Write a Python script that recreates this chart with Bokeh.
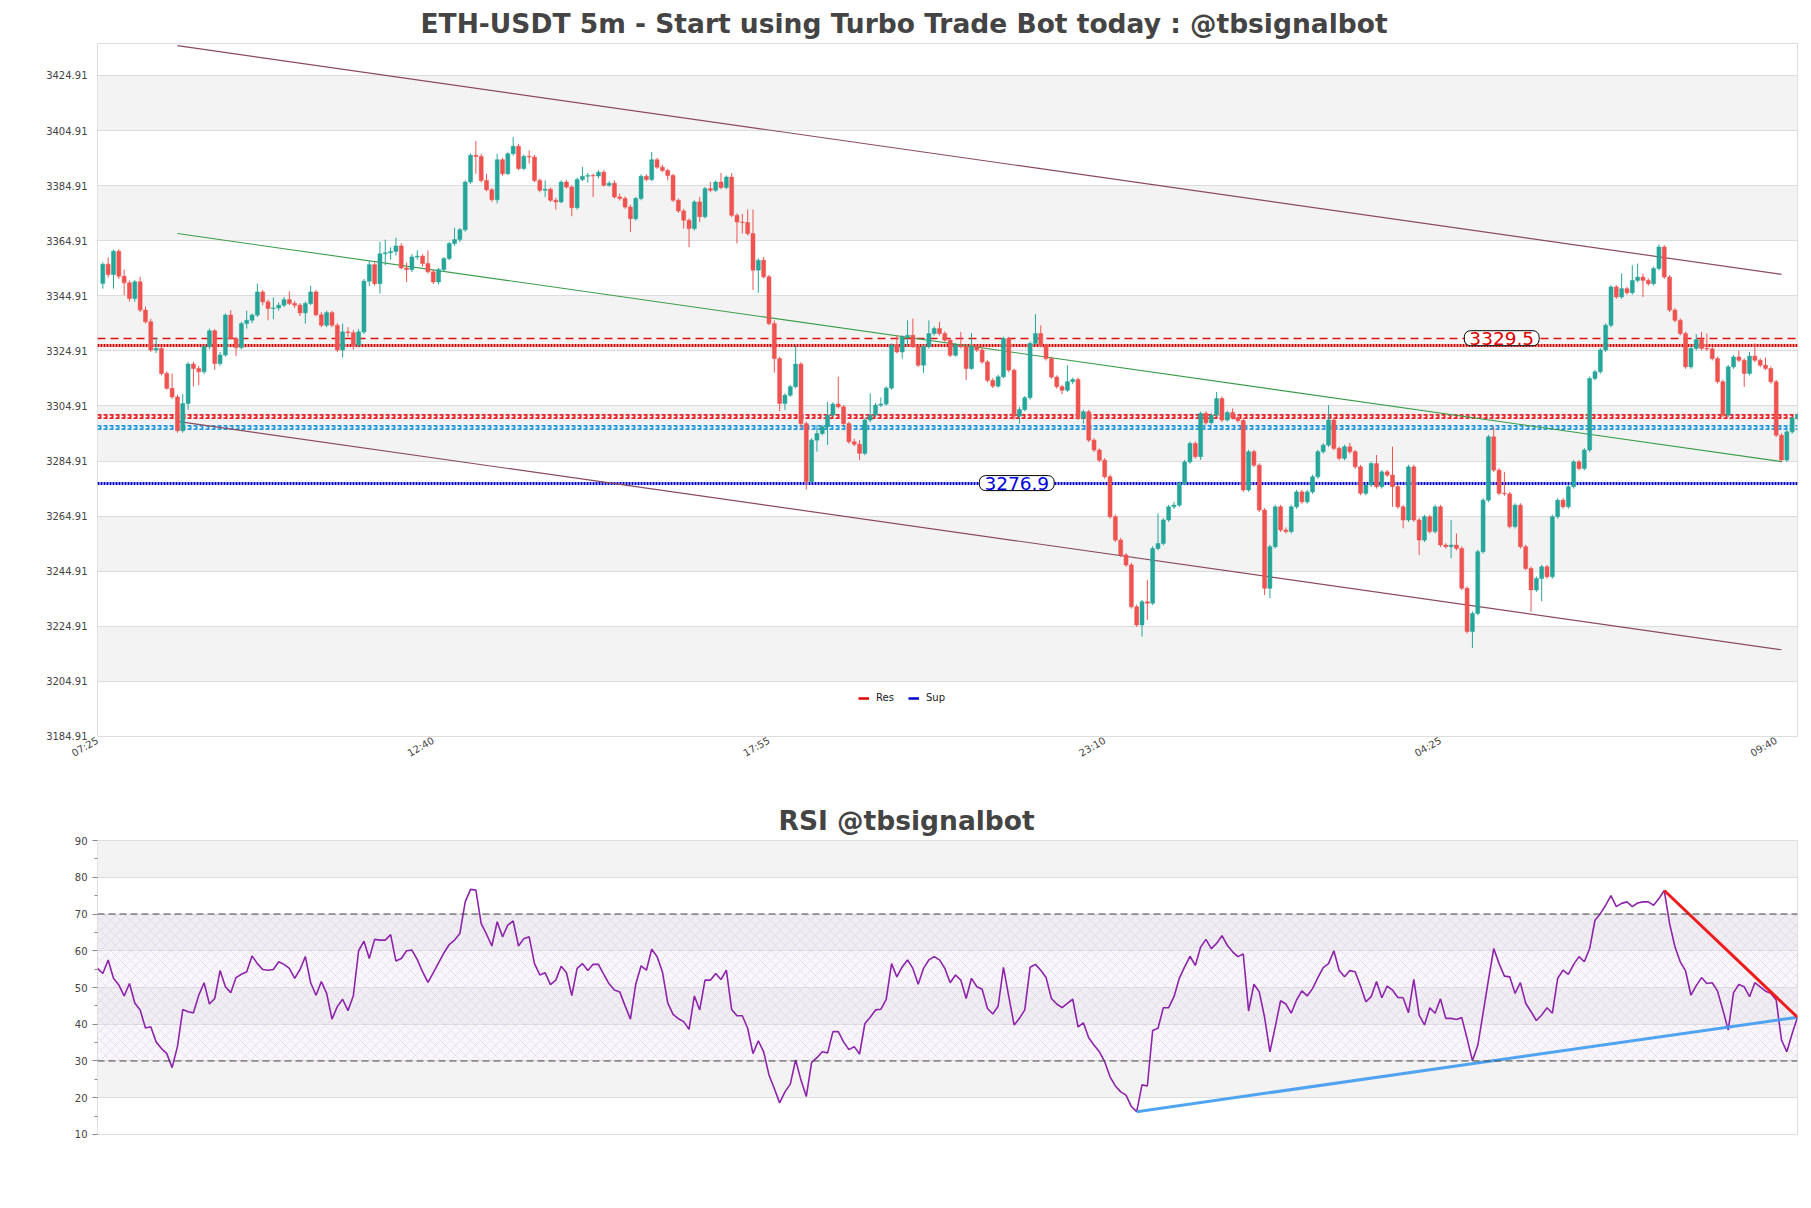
import math
from bokeh.plotting import figure
from bokeh.layouts import column
from bokeh.models import (ColumnDataSource, FixedTicker, Label, Legend, LegendItem,
                          BoxAnnotation, Span, NumeralTickFormatter)
from bokeh.embed import file_html
from bokeh.resources import INLINE

# ---------------- data ----------------
TITLE = "ETH-USDT 5m - Start using Turbo Trade Bot today : @tbsignalbot"
RSI_TITLE = "RSI @tbsignalbot"

FIRST_CANDLE = 1
OPEN = [
 3349.4, 3356.4, 3352.6, 3361.1, 3352.0, 3349.6, 3343.9, 3350.0, 3339.7, 3335.5,
 3325.2, 3325.8, 3316.7, 3311.3, 3308.2, 3295.9, 3305.8, 3320.1, 3318.5, 3317.3,
 3326.4, 3332.2, 3320.3, 3323.4, 3337.9, 3329.4, 3326.1, 3334.8, 3336.0, 3337.9,
 3346.3, 3342.7, 3340.3, 3340.5, 3341.5, 3343.5, 3342.1, 3341.5, 3338.7, 3342.1,
 3346.3, 3338.0, 3334.2, 3338.8, 3334.2, 3325.2, 3331.8, 3331.5, 3327.0, 3331.8,
 3350.2, 3356.2, 3349.3, 3360.2, 3360.5, 3361.0, 3363.0, 3355.0, 3354.4, 3359.0,
 3359.3, 3356.6, 3353.6, 3349.9, 3354.4, 3358.4, 3363.9, 3365.3, 3368.9, 3386.2,
 3395.9, 3395.5, 3386.8, 3383.4, 3379.8, 3394.3, 3389.2, 3396.5, 3399.2, 3391.1,
 3395.5, 3395.3, 3386.8, 3383.2, 3383.6, 3379.6, 3379.0, 3386.2, 3384.4, 3376.9,
 3387.1, 3388.3, 3388.6, 3388.4, 3389.8, 3385.0, 3385.8, 3380.8, 3380.2, 3377.1,
 3372.9, 3380.2, 3388.3, 3387.1, 3394.3, 3391.6, 3390.4, 3388.6, 3379.6, 3375.7,
 3372.3, 3369.3, 3379.0, 3373.6, 3383.8, 3383.2, 3386.2, 3384.2, 3388.0, 3374.1,
 3371.7, 3371.5, 3367.5, 3354.2, 3357.8, 3351.8, 3334.8, 3322.1, 3305.8, 3308.8,
 3311.9, 3320.1, 3298.5, 3277.4, 3292.5, 3294.9, 3297.3, 3301.6, 3305.6, 3304.6,
 3298.5, 3291.9, 3291.0, 3287.7, 3299.8, 3301.6, 3305.2, 3305.6, 3311.4, 3327.0,
 3324.5, 3330.0, 3330.6, 3326.4, 3319.7, 3326.4, 3331.2, 3333.0, 3331.2, 3328.8,
 3323.3, 3326.9, 3326.4, 3318.5, 3326.4, 3325.2, 3320.9, 3314.2, 3312.1, 3315.5,
 3329.4, 3317.9, 3301.2, 3303.6, 3307.9, 3327.6, 3331.2, 3326.9, 3322.1, 3315.4,
 3311.9, 3310.6, 3313.7, 3314.5, 3300.4, 3302.8, 3292.5, 3288.9, 3285.2, 3279.2,
 3264.7, 3256.2, 3250.8, 3247.2, 3232.0, 3225.4, 3233.8, 3233.3, 3253.2, 3255.0,
 3263.5, 3268.3, 3268.9, 3276.8, 3284.6, 3291.3, 3286.5, 3302.2, 3298.8, 3301.6,
 3307.6, 3299.8, 3302.5, 3300.6, 3299.6, 3274.4, 3288.3, 3283.4, 3267.1, 3238.7,
 3253.8, 3268.3, 3259.9, 3259.3, 3268.3, 3273.7, 3270.1, 3273.7, 3279.2, 3288.3,
 3290.7, 3299.8, 3289.5, 3285.9, 3290.1, 3288.3, 3282.8, 3273.2, 3276.2, 3284.0,
 3275.6, 3281.0, 3279.8, 3275.6, 3268.3, 3263.5, 3282.8, 3263.5, 3256.2, 3264.7,
 3259.3, 3268.3, 3254.4, 3253.8, 3254.4, 3253.2, 3238.7, 3223.0, 3229.6, 3252.0,
 3270.7, 3293.7, 3281.6, 3273.2, 3273.0, 3261.1, 3268.9, 3253.8, 3245.9, 3238.1,
 3242.3, 3246.5, 3242.9, 3264.7, 3270.7, 3268.3, 3275.6, 3284.6, 3282.2, 3288.9,
 3314.9, 3317.3, 3325.2, 3334.2, 3348.1, 3344.5, 3347.5, 3346.0, 3350.5, 3351.7,
 3350.5, 3349.3, 3354.8, 3362.6, 3351.7, 3339.7, 3336.0, 3331.2, 3319.1, 3325.8,
 3329.0, 3325.8, 3325.6, 3322.1, 3313.7, 3301.6, 3319.1, 3322.7, 3321.5, 3316.7,
 3323.0, 3321.5, 3319.7, 3318.5, 3313.7, 3294.3, 3285.3, 3295.5, 3300.4]
HIGH = [
 3357.0, 3358.8, 3361.6, 3361.8, 3354.4, 3350.5, 3350.6, 3351.8, 3341.0, 3336.5,
 3329.8, 3326.5, 3317.5, 3316.7, 3309.0, 3309.2, 3320.8, 3320.9, 3319.5, 3327.0,
 3333.0, 3332.8, 3324.5, 3338.5, 3339.7, 3330.0, 3335.5, 3339.5, 3338.5, 3349.3,
 3347.0, 3343.5, 3344.3, 3342.5, 3344.5, 3346.5, 3343.0, 3342.2, 3342.8, 3348.5,
 3347.0, 3339.0, 3339.5, 3339.5, 3335.0, 3334.8, 3333.5, 3332.5, 3332.8, 3351.0,
 3357.5, 3357.0, 3364.5, 3365.3, 3362.5, 3366.0, 3364.0, 3357.0, 3360.0, 3361.4,
 3360.0, 3361.4, 3354.5, 3355.0, 3359.0, 3364.5, 3369.6, 3369.5, 3386.8, 3396.6,
 3401.1, 3396.5, 3389.2, 3384.0, 3396.5, 3395.0, 3397.0, 3402.5, 3400.0, 3396.2,
 3397.7, 3396.0, 3387.5, 3386.8, 3384.2, 3380.5, 3386.8, 3387.0, 3385.0, 3387.8,
 3391.7, 3389.5, 3389.2, 3390.5, 3390.5, 3386.5, 3386.8, 3382.0, 3381.0, 3378.0,
 3380.8, 3389.0, 3389.0, 3397.1, 3395.0, 3392.5, 3391.0, 3389.2, 3380.2, 3376.5,
 3373.0, 3379.6, 3380.8, 3384.4, 3386.2, 3386.8, 3389.5, 3388.6, 3389.5, 3374.8,
 3374.7, 3376.2, 3376.2, 3358.5, 3359.0, 3352.5, 3336.0, 3322.8, 3309.5, 3312.5,
 3327.0, 3320.8, 3299.2, 3293.2, 3297.9, 3298.0, 3306.4, 3306.2, 3315.5, 3305.2,
 3299.2, 3293.0, 3292.5, 3300.5, 3309.4, 3306.0, 3308.0, 3312.0, 3327.6, 3330.6,
 3330.6, 3336.0, 3336.6, 3327.0, 3327.0, 3336.0, 3333.8, 3335.4, 3332.0, 3329.5,
 3327.6, 3331.8, 3327.0, 3331.4, 3327.0, 3326.0, 3321.5, 3315.0, 3316.2, 3330.0,
 3330.0, 3318.5, 3304.5, 3308.5, 3328.2, 3338.2, 3334.2, 3327.5, 3322.8, 3316.0,
 3312.5, 3319.7, 3315.2, 3315.2, 3303.5, 3303.5, 3293.2, 3289.5, 3286.0, 3280.0,
 3265.5, 3257.0, 3251.5, 3248.0, 3232.8, 3234.5, 3241.7, 3254.0, 3265.9, 3264.2,
 3269.0, 3270.0, 3277.5, 3285.3, 3292.0, 3292.0, 3302.9, 3303.0, 3302.3, 3310.0,
 3308.3, 3303.2, 3304.0, 3301.3, 3300.3, 3289.0, 3289.0, 3284.1, 3267.8, 3254.5,
 3269.0, 3269.0, 3260.8, 3269.0, 3274.4, 3274.4, 3274.4, 3279.9, 3289.0, 3291.4,
 3305.2, 3300.5, 3290.2, 3290.8, 3291.5, 3289.0, 3283.5, 3276.9, 3284.7, 3287.1,
 3281.7, 3281.7, 3290.1, 3276.3, 3269.0, 3283.5, 3283.5, 3264.2, 3265.4, 3265.4,
 3269.0, 3269.0, 3255.1, 3263.5, 3258.6, 3253.9, 3239.4, 3230.3, 3252.7, 3271.4,
 3294.4, 3297.3, 3282.3, 3281.0, 3273.7, 3269.6, 3269.6, 3254.5, 3246.6, 3243.0,
 3247.2, 3247.2, 3265.4, 3271.4, 3271.4, 3276.3, 3285.3, 3285.3, 3289.6, 3315.6,
 3318.0, 3325.9, 3334.9, 3348.8, 3348.8, 3353.0, 3348.2, 3356.0, 3356.6, 3353.0,
 3351.2, 3355.5, 3363.5, 3363.3, 3352.4, 3340.4, 3336.7, 3331.9, 3326.5, 3331.0,
 3331.8, 3331.2, 3326.3, 3322.8, 3314.4, 3319.8, 3323.4, 3325.0, 3322.2, 3324.5,
 3327.6, 3322.2, 3322.5, 3319.2, 3314.4, 3295.0, 3296.2, 3301.1, 3302.5]
LOW = [
 3347.5, 3351.5, 3347.5, 3351.0, 3345.1, 3342.8, 3342.7, 3339.0, 3334.8, 3324.5,
 3324.1, 3316.0, 3310.8, 3307.5, 3295.2, 3295.2, 3303.5, 3312.0, 3312.5, 3316.5,
 3325.5, 3318.0, 3319.5, 3322.8, 3329.0, 3323.0, 3325.5, 3333.0, 3335.0, 3337.2,
 3341.5, 3336.0, 3336.4, 3339.5, 3340.8, 3341.5, 3340.5, 3337.5, 3334.8, 3341.5,
 3337.5, 3333.5, 3333.5, 3333.5, 3324.5, 3322.5, 3330.0, 3325.4, 3326.2, 3331.0,
 3348.4, 3348.5, 3345.7, 3356.0, 3358.0, 3359.5, 3354.5, 3349.9, 3353.5, 3358.0,
 3355.5, 3353.0, 3349.2, 3349.0, 3353.8, 3357.8, 3363.0, 3364.5, 3368.2, 3385.5,
 3389.2, 3386.0, 3382.8, 3379.0, 3378.4, 3388.5, 3388.8, 3395.8, 3390.5, 3390.5,
 3392.9, 3386.2, 3382.5, 3380.8, 3379.0, 3376.2, 3378.5, 3383.8, 3373.8, 3376.2,
 3386.5, 3386.0, 3380.8, 3387.5, 3384.5, 3384.5, 3380.2, 3379.5, 3376.5, 3368.1,
 3372.2, 3379.6, 3386.5, 3386.5, 3391.0, 3389.8, 3386.8, 3379.0, 3375.0, 3369.3,
 3362.6, 3368.6, 3371.7, 3373.0, 3382.5, 3382.6, 3383.6, 3383.6, 3373.5, 3363.9,
 3367.5, 3366.8, 3347.0, 3346.0, 3351.2, 3334.2, 3317.0, 3303.0, 3303.4, 3308.2,
 3311.3, 3296.7, 3274.6, 3276.8, 3288.3, 3294.2, 3290.7, 3301.0, 3304.0, 3297.8,
 3291.2, 3290.3, 3285.3, 3287.0, 3299.0, 3301.0, 3304.5, 3305.0, 3310.8, 3324.0,
 3322.1, 3327.0, 3326.0, 3319.0, 3316.9, 3325.8, 3330.5, 3330.5, 3328.2, 3322.6,
 3322.8, 3325.8, 3314.3, 3318.0, 3324.5, 3320.2, 3313.5, 3311.4, 3311.5, 3315.0,
 3317.2, 3300.0, 3298.5, 3303.0, 3307.2, 3327.0, 3326.2, 3321.4, 3314.8, 3311.2,
 3309.2, 3310.0, 3312.8, 3299.8, 3298.5, 3291.8, 3288.2, 3284.5, 3278.5, 3264.0,
 3255.5, 3250.0, 3246.5, 3231.3, 3224.7, 3221.2, 3227.2, 3232.6, 3252.5, 3254.3,
 3262.8, 3267.5, 3268.2, 3276.1, 3283.9, 3285.8, 3285.3, 3298.1, 3298.1, 3301.0,
 3299.1, 3299.2, 3300.0, 3298.9, 3273.7, 3273.8, 3282.7, 3266.4, 3236.3, 3235.1,
 3253.1, 3259.2, 3258.6, 3258.6, 3267.6, 3269.4, 3269.4, 3273.0, 3278.5, 3287.6,
 3290.0, 3288.8, 3285.2, 3285.2, 3287.6, 3282.1, 3272.5, 3272.5, 3275.5, 3274.9,
 3274.9, 3279.1, 3268.3, 3267.6, 3260.5, 3262.8, 3262.8, 3250.8, 3255.5, 3258.6,
 3258.6, 3253.7, 3253.1, 3249.6, 3252.5, 3238.0, 3222.3, 3217.0, 3228.9, 3251.3,
 3270.0, 3280.9, 3272.5, 3272.3, 3260.4, 3260.4, 3253.1, 3245.2, 3230.2, 3237.4,
 3234.0, 3242.2, 3242.2, 3264.0, 3267.6, 3267.6, 3274.9, 3281.5, 3281.5, 3288.2,
 3314.2, 3316.6, 3324.5, 3333.5, 3343.8, 3343.8, 3345.3, 3345.3, 3349.8, 3344.5,
 3348.6, 3348.6, 3354.1, 3351.0, 3339.0, 3335.3, 3330.5, 3318.4, 3318.4, 3325.1,
 3325.1, 3324.8, 3321.4, 3313.0, 3300.9, 3300.9, 3318.4, 3320.8, 3311.8, 3316.0,
 3320.8, 3319.0, 3318.0, 3313.0, 3293.6, 3284.6, 3284.6, 3294.8, 3299.7]
CLOSE = [
 3356.4, 3352.6, 3361.1, 3352.0, 3349.6, 3343.9, 3350.0, 3339.7, 3335.5, 3325.2,
 3325.8, 3316.7, 3311.3, 3308.2, 3295.9, 3305.8, 3320.1, 3318.5, 3317.3, 3326.4,
 3332.2, 3320.3, 3323.4, 3337.9, 3329.4, 3326.1, 3334.8, 3336.0, 3337.9, 3346.3,
 3342.7, 3340.3, 3340.5, 3341.5, 3343.5, 3342.1, 3341.5, 3338.7, 3342.1, 3346.3,
 3338.0, 3334.2, 3338.8, 3334.2, 3325.2, 3331.8, 3331.5, 3327.0, 3331.8, 3350.2,
 3356.2, 3349.3, 3360.2, 3360.5, 3361.0, 3363.0, 3355.0, 3354.4, 3359.0, 3359.3,
 3356.6, 3353.6, 3349.9, 3354.4, 3358.4, 3363.9, 3365.3, 3368.9, 3386.2, 3395.9,
 3395.5, 3386.8, 3383.4, 3379.8, 3394.3, 3389.2, 3396.5, 3399.2, 3391.1, 3395.5,
 3395.3, 3386.8, 3383.2, 3383.6, 3379.6, 3379.0, 3386.2, 3384.4, 3376.9, 3387.1,
 3388.3, 3388.6, 3388.4, 3389.8, 3385.0, 3385.8, 3380.8, 3380.2, 3377.1, 3372.9,
 3380.2, 3388.3, 3387.1, 3394.3, 3391.6, 3390.4, 3388.6, 3379.6, 3375.7, 3372.3,
 3369.3, 3379.0, 3373.6, 3383.8, 3383.2, 3386.2, 3384.2, 3388.0, 3374.1, 3371.7,
 3371.5, 3367.5, 3354.2, 3357.8, 3351.8, 3334.8, 3322.1, 3305.8, 3308.8, 3311.9,
 3320.1, 3298.5, 3277.4, 3292.5, 3294.9, 3297.3, 3301.6, 3305.6, 3304.6, 3298.5,
 3291.9, 3291.0, 3287.7, 3299.8, 3301.6, 3305.2, 3305.6, 3311.4, 3327.0, 3324.5,
 3330.0, 3330.6, 3326.4, 3319.7, 3326.4, 3331.2, 3333.0, 3331.2, 3328.8, 3323.3,
 3326.9, 3326.4, 3318.5, 3326.4, 3325.2, 3320.9, 3314.2, 3312.1, 3315.5, 3329.4,
 3317.9, 3301.2, 3303.6, 3307.9, 3327.6, 3331.2, 3326.9, 3322.1, 3315.4, 3311.9,
 3310.6, 3313.7, 3314.5, 3300.4, 3302.8, 3292.5, 3288.9, 3285.2, 3279.2, 3264.7,
 3256.2, 3250.8, 3247.2, 3232.0, 3225.4, 3233.8, 3233.3, 3253.2, 3255.0, 3263.5,
 3268.3, 3268.9, 3276.8, 3284.6, 3291.3, 3286.5, 3302.2, 3298.8, 3301.6, 3307.6,
 3299.8, 3302.5, 3300.6, 3299.6, 3274.4, 3288.3, 3283.4, 3267.1, 3238.7, 3253.8,
 3268.3, 3259.9, 3259.3, 3268.3, 3273.7, 3270.1, 3273.7, 3279.2, 3288.3, 3290.7,
 3299.8, 3289.5, 3285.9, 3290.1, 3288.3, 3282.8, 3273.2, 3276.2, 3284.0, 3275.6,
 3281.0, 3279.8, 3275.6, 3268.3, 3263.5, 3282.8, 3263.5, 3256.2, 3264.7, 3259.3,
 3268.3, 3254.4, 3253.8, 3254.4, 3253.2, 3238.7, 3223.0, 3229.6, 3252.0, 3270.7,
 3293.7, 3281.6, 3273.2, 3273.0, 3261.1, 3268.9, 3253.8, 3245.9, 3238.1, 3242.3,
 3246.5, 3242.9, 3264.7, 3270.7, 3268.3, 3275.6, 3284.6, 3282.2, 3288.9, 3314.9,
 3317.3, 3325.2, 3334.2, 3348.1, 3344.5, 3347.5, 3346.0, 3350.5, 3351.7, 3350.5,
 3349.3, 3354.8, 3362.6, 3351.7, 3339.7, 3336.0, 3331.2, 3319.1, 3325.8, 3329.0,
 3325.8, 3325.6, 3322.1, 3313.7, 3301.6, 3319.1, 3322.7, 3321.5, 3316.7, 3323.0,
 3321.5, 3319.7, 3318.5, 3313.7, 3294.3, 3285.3, 3295.5, 3300.4, 3301.8]

RSI = [
 55.2, 53.8, 57.5, 52.5, 50.7, 47.7, 51.1, 45.8, 43.9, 39.0,
 39.3, 35.2, 33.4, 32.0, 28.2, 33.9, 44.0, 43.4, 43.1, 47.9,
 51.3, 45.5, 47.0, 54.6, 50.2, 48.6, 52.7, 53.6, 54.3, 58.6,
 56.5, 54.9, 54.7, 54.9, 57.0, 56.3, 55.2, 52.5, 54.9, 58.4,
 51.3, 47.9, 51.6, 48.4, 41.4, 44.8, 46.8, 43.7, 47.7, 60.0,
 62.6, 57.9, 63.1, 62.9, 62.9, 64.4, 57.2, 57.9, 60.0, 60.2,
 57.6, 54.3, 51.4, 54.0, 56.7, 59.4, 61.7, 62.9, 64.7, 73.3,
 76.7, 76.5, 67.4, 64.5, 61.3, 67.9, 63.8, 67.0, 68.1, 61.3,
 63.3, 63.8, 56.5, 53.4, 54.0, 50.8, 52.0, 55.8, 54.0, 47.8,
 55.2, 56.5, 54.6, 56.3, 56.3, 53.6, 51.0, 49.3, 48.8, 45.0,
 41.4, 50.9, 55.9, 54.7, 60.4, 58.4, 54.3, 45.8, 42.7, 41.5,
 40.7, 38.6, 47.7, 43.9, 52.0, 52.0, 53.8, 52.2, 54.7, 44.0,
 42.3, 42.3, 38.9, 32.0, 35.5, 32.5, 26.2, 22.5, 18.6, 21.6,
 23.7, 30.3, 24.8, 20.3, 29.6, 30.9, 32.5, 32.2, 38.0, 38.0,
 35.2, 33.1, 33.9, 31.9, 40.2, 41.9, 43.9, 44.1, 46.8, 56.5,
 52.9, 55.6, 57.5, 55.2, 50.9, 55.2, 57.5, 58.4, 57.5, 55.2,
 51.3, 53.4, 52.0, 47.0, 52.5, 50.2, 49.5, 44.3, 42.8, 44.9,
 55.5, 47.5, 39.8, 41.6, 43.9, 55.5, 56.3, 54.7, 52.7, 47.0,
 45.5, 44.5, 45.7, 46.8, 39.3, 40.4, 36.3, 34.3, 32.5, 29.8,
 25.7, 23.2, 21.6, 20.7, 17.6, 16.2, 23.5, 23.2, 38.3, 38.9,
 44.5, 44.5, 47.5, 52.5, 55.6, 58.5, 56.0, 61.0, 63.1, 60.6,
 62.0, 64.1, 61.5, 59.7, 58.4, 59.1, 43.6, 50.9, 48.8, 41.9,
 32.5, 39.3, 46.4, 45.5, 43.0, 46.6, 49.1, 47.7, 49.7, 52.7,
 55.4, 56.5, 60.0, 54.6, 52.9, 54.6, 54.3, 50.4, 46.1, 47.5,
 51.6, 47.2, 50.4, 49.3, 47.3, 47.2, 43.1, 52.2, 42.5, 39.8,
 44.5, 43.0, 46.9, 41.6, 41.6, 41.3, 41.8, 36.1, 30.1, 34.2,
 43.0, 52.0, 60.6, 56.5, 53.1, 52.9, 48.4, 51.3, 45.7, 43.4,
 41.0, 42.5, 44.5, 43.0, 52.5, 54.7, 53.6, 56.3, 58.4, 57.0,
 60.6, 68.3, 70.1, 72.4, 75.0, 72.0, 72.9, 73.3, 72.0, 73.0,
 73.3, 73.3, 72.4, 74.2, 76.4, 67.4, 61.1, 57.0, 54.5, 47.9,
 50.5, 52.7, 51.1, 51.3, 49.0, 43.9, 38.4, 48.6, 50.8, 50.2,
 47.5, 51.3, 50.2, 49.0, 48.4, 46.6, 35.7, 32.5, 37.5, 41.9]

TICK_POS = [0, 63, 126, 189, 252, 315]
TICK_LABELS = ["07:25", "12:40", "17:55", "23:10", "04:25", "09:40"]
PRICE_TICKS = [3184.91, 3204.91, 3224.91, 3244.91, 3264.91, 3284.91, 3304.91,
               3324.91, 3344.91, 3364.91, 3384.91, 3404.91, 3424.91]
RSI_TICKS = [10, 20, 30, 40, 50, 60, 70, 80, 90]
RSI_MINOR = [15, 25, 35, 45, 55, 65, 75, 85]

RES_DASHED = 3329.5
RES_DOTTED = 3327.0
RES_CHAIN = 3301.0
SUP_CHAIN = 3297.0
SUP_DOTTED = 3276.9

CHANNEL_X = [15, 316]
CHANNEL_UP = [3435.7, 3352.7]
CHANNEL_MID = [3367.5, 3284.7]
CHANNEL_LO = [3299.3, 3216.4]

RES_LABEL_X, RES_LABEL_TEXT = 263.5, "3329.5"
SUP_LABEL_X, SUP_LABEL_TEXT = 172.5, "3276.9"

RSI_SUP_X = [195, 319]
RSI_SUP_Y = [16.2, 41.9]
RSI_RES_X = [294, 319]
RSI_RES_Y = [76.4, 41.9]

# ---------------- styling ----------------
GREEN = "#26a69a"
RED = "#ef5350"
FONT = "DejaVu Sans"
TXT = "#444444"

n = len(CLOSE)
xs = list(range(FIRST_CANDLE, FIRST_CANDLE + n))
colors = [GREEN if c >= o else RED for o, c in zip(OPEN, CLOSE)]
tops = [max(o, c) for o, c in zip(OPEN, CLOSE)]
bots = [min(o, c) for o, c in zip(OPEN, CLOSE)]
src = ColumnDataSource(dict(x=xs, high=HIGH, low=LOW, top=tops, bottom=bots, color=colors))


def style_title(p, text, offset):
    p.title.text = text
    p.title.align = "left"
    p.title.offset = offset
    p.title.text_font = FONT
    p.title.text_font_style = "bold"
    p.title.text_font_size = "26.5px"
    p.title.text_color = TXT
    p.title.standoff = 10


# ---------------- main chart ----------------
p1 = figure(width=1811, height=780, x_range=(0, 319), y_range=(3184.9, 3436.5),
            output_backend="svg", toolbar_location=None,
            min_border_left=97, min_border_right=14, min_border_top=43, min_border_bottom=44)
style_title(p1, TITLE, 323)
p1.background_fill_color = "white"
p1.border_fill_color = "white"
p1.outline_line_color = "#dddddd"
p1.xgrid.visible = False
p1.ygrid.ticker = FixedTicker(ticks=PRICE_TICKS[1:])
p1.ygrid.grid_line_color = "#dcdcdc"
p1.ygrid.band_fill_color = "#f3f3f3"
p1.ygrid.band_fill_alpha = 1.0

p1.yaxis.ticker = FixedTicker(ticks=PRICE_TICKS)
p1.yaxis.formatter = NumeralTickFormatter(format="0.00")
p1.yaxis.axis_line_color = None
p1.yaxis.major_tick_line_color = None
p1.yaxis.minor_tick_line_color = None
p1.yaxis.major_tick_out = 0
p1.yaxis.major_tick_in = 0
p1.yaxis.major_label_standoff = 10
p1.yaxis.major_label_text_font = FONT
p1.yaxis.major_label_text_font_size = "10px"
p1.yaxis.major_label_text_color = TXT

p1.xaxis.ticker = FixedTicker(ticks=TICK_POS)
p1.xaxis.major_label_overrides = dict(zip(TICK_POS, TICK_LABELS))
p1.xaxis.major_label_orientation = math.pi / 6
p1.xaxis.axis_line_color = None
p1.xaxis.major_tick_line_color = None
p1.xaxis.minor_tick_line_color = None
p1.xaxis.major_tick_out = 0
p1.xaxis.major_tick_in = 0
p1.xaxis.major_label_standoff = 3
p1.xaxis.major_label_text_font = FONT
p1.xaxis.major_label_text_font_size = "10px"
p1.xaxis.major_label_text_color = TXT

# level lines
p1.hspan(y=[RES_DASHED], line_color="#e01010", line_width=1.3, line_dash="8 5")
p1.hspan(y=[RES_DOTTED], line_color="#d40000", line_width=3, line_dash="2 1")
p1.hspan(y=[SUP_DOTTED], line_color="#0000cc", line_width=3, line_dash="2 1")
for lvl, col in ((RES_CHAIN, "#e8262b"), (SUP_CHAIN, "#2a9bdc")):
    p1.hspan(y=[lvl], line_color=col, line_width=5, line_dash="4 2")
    p1.hspan(y=[lvl], line_color="white", line_width=1.3, line_dash="3 3",
             line_dash_offset=1)

# channel
p1.line(CHANNEL_X, CHANNEL_UP, line_color="#8a4a60", line_width=1.2)
p1.line(CHANNEL_X, CHANNEL_LO, line_color="#8a4a60", line_width=1.2)
p1.line(CHANNEL_X, CHANNEL_MID, line_color="#3a9d4a", line_width=1.1)

# candles
p1.segment(x0="x", y0="low", x1="x", y1="high", line_color="color", line_width=1, source=src)
p1.vbar(x="x", width=0.75, top="top", bottom="bottom", fill_color="color",
        line_color="color", line_width=0.5, source=src)

# price labels
p1.add_layout(Label(x=RES_LABEL_X, y=RES_DASHED, text=RES_LABEL_TEXT, text_align="center",
                    text_baseline="middle", text_font=FONT, text_font_size="18.5px",
                    text_color="#e00000", background_fill_color="white",
                    border_line_color="black", border_line_width=1, padding=(5, 1),
                    border_radius=6))
p1.add_layout(Label(x=SUP_LABEL_X, y=SUP_DOTTED, text=SUP_LABEL_TEXT, text_align="center",
                    text_baseline="middle", text_font=FONT, text_font_size="18.5px",
                    text_color="#0000dd", background_fill_color="white",
                    border_line_color="black", border_line_width=1, padding=(5, 1),
                    border_radius=6))

# legend (proxy glyphs with no visible data)
NAN = float("nan")
r_res = p1.line(x=[NAN, NAN], y=[NAN, NAN], line_color="#dd0000", line_width=2.5)
r_sup = p1.line(x=[NAN, NAN], y=[NAN, NAN], line_color="#0000cc", line_width=2.5)
legend = Legend(items=[LegendItem(label="Res", renderers=[r_res]),
                       LegendItem(label="Sup", renderers=[r_sup])],
                orientation="horizontal", location=(757, 29),
                border_line_alpha=0, background_fill_alpha=0,
                label_text_font=FONT, label_text_font_size="10px", label_text_color="#222",
                glyph_width=11, glyph_height=8, spacing=12, padding=4, label_standoff=7)
p1.add_layout(legend)

# ---------------- RSI chart ----------------
p2 = figure(width=1811, height=428, x_range=(0, 319), y_range=(9.99, 90.01),
            output_backend="svg", toolbar_location=None,
            min_border_left=97, min_border_right=14, min_border_top=60, min_border_bottom=74)
style_title(p2, RSI_TITLE, 681)
p2.background_fill_color = "white"
p2.border_fill_color = "white"
p2.outline_line_color = "#dddddd"
p2.xgrid.visible = False
p2.xaxis.visible = False
p2.ygrid.ticker = FixedTicker(ticks=RSI_TICKS[1:])
p2.ygrid.grid_line_color = "#dcdcdc"
p2.ygrid.band_fill_color = "#f3f3f3"
p2.ygrid.band_fill_alpha = 1.0
p2.yaxis.ticker = FixedTicker(ticks=RSI_TICKS, minor_ticks=RSI_MINOR)
p2.yaxis.axis_line_color = None
p2.yaxis.major_tick_line_color = "#888888"
p2.yaxis.minor_tick_line_color = "#888888"
p2.yaxis.major_tick_out = 5
p2.yaxis.major_tick_in = 0
p2.yaxis.minor_tick_out = 3
p2.yaxis.minor_tick_in = 0
p2.yaxis.major_label_standoff = 5
p2.yaxis.major_label_text_font = FONT
p2.yaxis.major_label_text_font_size = "10px"
p2.yaxis.major_label_text_color = TXT

p2.add_layout(BoxAnnotation(bottom=30, top=70, fill_color="#e9e0f2", fill_alpha=0.25,
                            line_alpha=0, hatch_pattern="diagonal_cross",
                            hatch_color="#c9b6d9", hatch_alpha=0.6, hatch_scale=10,
                            hatch_weight=0.6, level="underlay"))
p2.add_layout(Span(location=70, dimension="width", line_color="#444444", line_width=1,
                   line_dash="7 4"))
p2.add_layout(Span(location=30, dimension="width", line_color="#444444", line_width=1,
                   line_dash="7 4"))

p2.line(list(range(len(RSI))), RSI, line_color="#8e24aa", line_width=1.6)
p2.line(RSI_SUP_X, RSI_SUP_Y, line_color="#3d9af0", line_width=3, line_alpha=0.9)
p2.line(RSI_RES_X, RSI_RES_Y, line_color="#ee1c1c", line_width=3)

layout = column(p1, p2)
open("out.html", "w").write(file_html(layout, INLINE))
